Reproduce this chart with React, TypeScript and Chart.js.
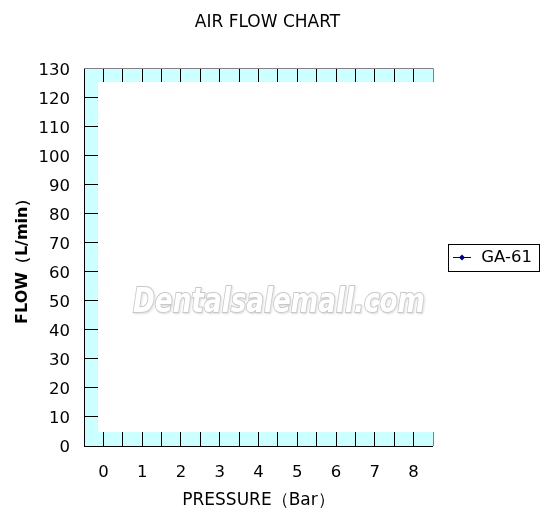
import { useEffect, useRef } from 'react';
import { Chart, registerables } from 'chart.js';

Chart.register(...registerables);

// x categories (bar) and the GA-61 series; the reference shows no plotted points
const pressures = [0, 1, 2, 3, 4, 5, 6, 7, 8];
const flowGA61: (number | null)[] = [null, null, null, null, null, null, null, null, null];
const seriesName = 'GA-61';
const flowMin = 0;
const flowMax = 130;
const flowStep = 10;
const watermark = 'Dentalsalemall.com';

const FONT = '"DejaVu Sans", Verdana, sans-serif';

function makeLegendMark(color: string) {
  const c = document.createElement('canvas');
  c.width = 18;
  c.height = 9;
  const g = c.getContext('2d');
  if (g) {
    g.strokeStyle = color;
    g.lineWidth = 1;
    g.beginPath();
    g.moveTo(0, 4.5);
    g.lineTo(18, 4.5);
    g.stroke();
    g.fillStyle = color;
    g.beginPath();
    g.moveTo(9, 1.5);
    g.lineTo(12, 4.5);
    g.lineTo(9, 7.5);
    g.lineTo(6, 4.5);
    g.closePath();
    g.fill();
  }
  return c;
}

const frame = {
  id: 'frame',
  beforeDraw(chart: any) {
    const { ctx, chartArea: a } = chart;
    ctx.save();
    ctx.fillStyle = '#CCFFFF';
    ctx.fillRect(Math.round(a.left), Math.round(a.top), Math.round(a.right - a.left), Math.round(a.bottom - a.top));
    ctx.restore();
  },
  beforeDatasetsDraw(chart: any) {
    const { ctx, chartArea: a } = chart;
    const l = Math.round(a.left) + 14;
    const t = Math.round(a.top) + 14;
    ctx.save();
    ctx.fillStyle = '#FFFFFF';
    ctx.fillRect(l, t, Math.round(a.right) + 2 - l, Math.round(a.bottom) - 14 - t);
    ctx.restore();
  },
  afterDraw(chart: any) {
    const { ctx } = chart;
    const hb = chart.legend?.legendHitBoxes?.[0];
    if (hb) {
      const l = Math.round(hb.left) - 3 + 0.5;
      const t = Math.round(hb.top) - 5 + 0.5;
      const r = Math.round(hb.left + hb.width) + 7 + 0.5;
      const b = Math.round(hb.top + hb.height) + 5 + 0.5;
      ctx.save();
      ctx.strokeStyle = '#000';
      ctx.lineWidth = 1;
      ctx.strokeRect(l, t, r - l, b - t);
      ctx.restore();
    }
    // watermark
    ctx.save();
    ctx.font = `bold italic 33px ${FONT}`;
    const w = ctx.measureText(watermark).width;
    ctx.translate(279, 312);
    ctx.scale(292 / w, 1);
    ctx.textAlign = 'center';
    ctx.textBaseline = 'alphabetic';
    ctx.shadowColor = 'rgba(0,0,0,0.15)';
    ctx.shadowBlur = 2;
    ctx.shadowOffsetX = 1;
    ctx.shadowOffsetY = 1;
    ctx.lineWidth = 2;
    ctx.strokeStyle = '#C8C8C8';
    ctx.strokeText(watermark, 0, 0);
    ctx.shadowColor = 'transparent';
    ctx.fillStyle = '#FFFFFF';
    ctx.fillText(watermark, 0, 0);
    ctx.restore();
  },
};

export default function App() {
  const canvasRef = useRef<HTMLCanvasElement>(null);

  useEffect(() => {
    if (!canvasRef.current) return;
    const ctx = canvasRef.current.getContext('2d');
    if (!ctx) return;

    const mark = makeLegendMark('#000080');

    const chart = new Chart(ctx, {
      type: 'line',
      data: {
        datasets: [
          {
            label: seriesName,
            data: pressures.map((p, i) => ({ x: p, y: flowGA61[i] })) as any,
            borderColor: '#000080',
            backgroundColor: '#000080',
            borderWidth: 1,
            pointStyle: 'rectRot',
            pointRadius: 4,
          },
        ],
      },
      options: {
        animation: false,
        responsive: true,
        maintainAspectRatio: false,
        layout: { padding: { left: 0, right: 11, top: 0, bottom: 0 } },
        plugins: {
          title: {
            display: true,
            text: 'AIR FLOW CHART',
            color: '#000',
            font: { family: FONT, size: 17, weight: 'normal' },
            padding: { top: 12, bottom: 36 },
          },
          legend: {
            position: 'right',
            maxWidth: 102,
            labels: {
              usePointStyle: true,
              pointStyle: mark as any,
              pointStyleWidth: 22,
              padding: 18,
              color: '#000',
              font: { family: FONT, size: 16.5 },
            },
          },
          tooltip: { enabled: false },
        },
        scales: {
          x: {
            type: 'linear',
            min: pressures[0] - 0.5,
            max: pressures[pressures.length - 1] + 0.5,
            afterFit: (s: any) => { s.height = 69; },
            border: { display: false },
            grid: {
              drawTicks: false,
              lineWidth: 1,
              color: (c: any) => (c.tick && c.tick.value === pressures[pressures.length - 1] + 0.5 ? '#808080' : '#000'),
            },
            ticks: {
              stepSize: 0.5,
              autoSkip: false,
              maxRotation: 0,
              padding: 17,
              color: '#000',
              font: { family: FONT, size: 16.5 },
              callback: (v: any) => (Number.isInteger(Number(v)) ? String(v) : ''),
            },
            title: {
              display: true,
              text: 'PRESSURE（Bar）',
              color: '#000',
              font: { family: FONT, size: 17 },
              padding: { top: 0, bottom: 4 },
            },
          },
          y: {
            min: flowMin,
            max: flowMax,
            afterFit: (s: any) => { s.width = 84; },
            border: { display: false },
            grid: {
              drawTicks: false,
              lineWidth: 1,
              color: (c: any) => (c.tick && c.tick.value === flowMax ? '#808080' : '#000'),
            },
            ticks: {
              stepSize: flowStep,
              padding: 14,
              labelOffset: 2,
              color: '#000',
              font: { family: FONT, size: 16.5 },
            },
            title: {
              display: true,
              text: 'FLOW（L/min）',
              color: '#000',
              font: { family: FONT, size: 16, weight: 'bold' },
              padding: { top: 13.5, bottom: 0 },
            },
          },
        },
      },
      plugins: [frame],
    });

    return () => { chart.destroy(); };
  }, []);

  return (
    <div style={{ position: 'absolute', left: 0, top: 0, width: 546, height: 515, background: '#fff' }}>
      <canvas ref={canvasRef} />
    </div>
  );
}
